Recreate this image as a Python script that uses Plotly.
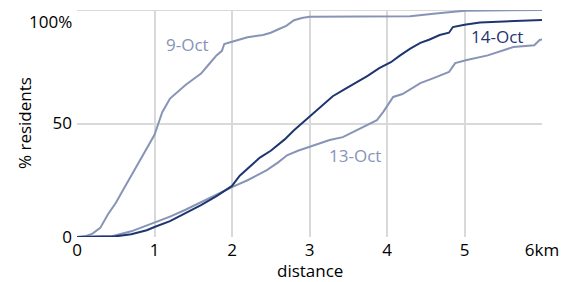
import plotly.graph_objects as go

# ---- data ----
x_9oct = [0, 0.1, 0.2, 0.3, 0.4, 0.5, 0.6, 0.7, 0.8, 0.9, 0.97, 1.0, 1.05, 1.1, 1.2, 1.3, 1.4, 1.5, 1.6,
          1.7, 1.8, 1.87, 1.9, 2.0, 2.2, 2.4, 2.5, 2.6, 2.7, 2.8, 2.9, 3.0, 3.5, 4.0, 4.3, 4.6, 4.8, 5.0, 6.0]
y_9oct = [0, 0.3, 1.5, 4, 10, 15, 21, 27, 33, 39, 43, 45, 50, 55, 61, 64, 67, 69.5, 72,
          76, 80, 82, 85, 86, 88, 89, 90, 91.5, 93, 95.5, 96.5, 97, 97, 97, 97.3, 98.3, 99, 99.7, 100]

x_14oct = [0, 0.3, 0.5, 0.7, 0.9, 1.0, 1.2, 1.4, 1.6, 1.8, 2.0, 2.1, 2.2, 2.36, 2.5, 2.68, 2.8, 2.97,
           3.1, 3.3, 3.45, 3.6, 3.75, 3.9, 4.05, 4.17, 4.3, 4.43, 4.55, 4.68, 4.8, 4.85, 5.0, 5.2, 5.5, 6.0]
y_14oct = [0, 0, 0.3, 1.2, 3, 4.4, 7, 10.5, 14, 18, 22.5, 27, 30, 35, 38, 43, 47, 52,
           56, 62, 65, 68, 71, 74.4, 77, 80, 83, 85.5, 87, 89, 90, 92.5, 93.5, 94.5, 95, 95.6]

x_13oct = [0, 0.3, 0.45, 0.7, 0.9, 1.0, 1.2, 1.4, 1.6, 1.8, 2.0, 2.2, 2.45, 2.6, 2.71, 2.85, 3.0, 3.26,
           3.43, 3.6, 3.87, 3.95, 4.08, 4.2, 4.43, 4.6, 4.8, 4.88, 5.03, 5.3, 5.63, 5.9, 5.97, 6.0]
y_13oct = [0, 0, 0.3, 2.5, 5, 6.6, 9, 12, 15.4, 18.5, 22, 25, 29.5, 33, 36, 38, 39.6, 42.7,
           44, 47, 51.5, 55, 61.7, 63, 67.8, 70, 72.7, 76.6, 78, 80, 83.7, 84.5, 86.8, 87]

x_ticks = [0, 1, 2, 3, 4, 5, 6]
x_tick_labels = ["0", "1", "2", "3", "4", "5", "6km"]
y_ticks = [0, 50, 100]
y_tick_labels = ["0", "50", "100%"]

LIGHT = "#8794b6"
DARK = "#1d3670"
FONT = "Open Sans"
FS = 17

fig = go.Figure()
fig.add_trace(go.Scatter(x=x_9oct, y=y_9oct, mode="lines", line=dict(color=LIGHT, width=2), showlegend=False))
fig.add_trace(go.Scatter(x=x_13oct, y=y_13oct, mode="lines", line=dict(color=LIGHT, width=2), showlegend=False))
fig.add_trace(go.Scatter(x=x_14oct, y=y_14oct, mode="lines", line=dict(color=DARK, width=2), showlegend=False))

fig.add_annotation(x=1.43, y=84.6, text="9-Oct", showarrow=False, font=dict(color=LIGHT, size=FS, family=FONT))
fig.add_annotation(x=5.42, y=88.5, text="14-Oct", showarrow=False, font=dict(color=DARK, size=FS, family=FONT))
fig.add_annotation(x=3.59, y=36, text="13-Oct", showarrow=False, font=dict(color=LIGHT, size=FS, family=FONT))
# top y tick label, nudged down so it stays inside the page (as in the reference)
fig.add_annotation(x=0, y=1, xref="paper", yref="paper", xanchor="right", yanchor="top",
                   xshift=-3, yshift=2, text=y_tick_labels[-1], showarrow=False,
                   font=dict(color="black", size=FS, family=FONT))
# axis titles placed explicitly
fig.add_annotation(x=0, y=0.5, xref="paper", yref="paper", xshift=-66, text="% residents",
                   textangle=-90, showarrow=False, font=dict(color="black", size=FS, family=FONT))
fig.add_annotation(x=0.5, y=0, xref="paper", yref="paper", yshift=-33, yanchor="middle", text="distance",
                   showarrow=False, font=dict(color="black", size=FS, family=FONT))

fig.update_layout(
    width=568, height=282,
    margin=dict(l=77, r=26, t=10, b=45, autoexpand=False),
    plot_bgcolor="white", paper_bgcolor="white",
    font=dict(family=FONT, size=FS, color="black"),
)
fig.update_xaxes(range=[0, 6], tickvals=x_ticks, ticktext=x_tick_labels, showgrid=True,
                 gridcolor="#d9d9d9", gridwidth=2, zeroline=False, showline=False, ticks="",
                 ticklabelstandoff=1, ticklabeloverflow="allow", tickfont=dict(size=FS, color="black"))
fig.update_yaxes(range=[0, 100], tickvals=y_ticks, ticktext=y_tick_labels[:-1] + [" "], showgrid=True,
                 gridcolor="#d9d9d9", gridwidth=2, zeroline=False, showline=False, ticks="",
                 ticklabelstandoff=4, ticklabeloverflow="allow", tickfont=dict(size=FS, color="black"))
# frame top edge (100% gridline) drawn explicitly so it is always visible
fig.add_hline(y=y_ticks[-1], line=dict(color="#d9d9d9", width=2), layer="below")

fig.write_html("out.html", config={"displayModeBar": False},
               post_script="document.body.style.margin='0';")
